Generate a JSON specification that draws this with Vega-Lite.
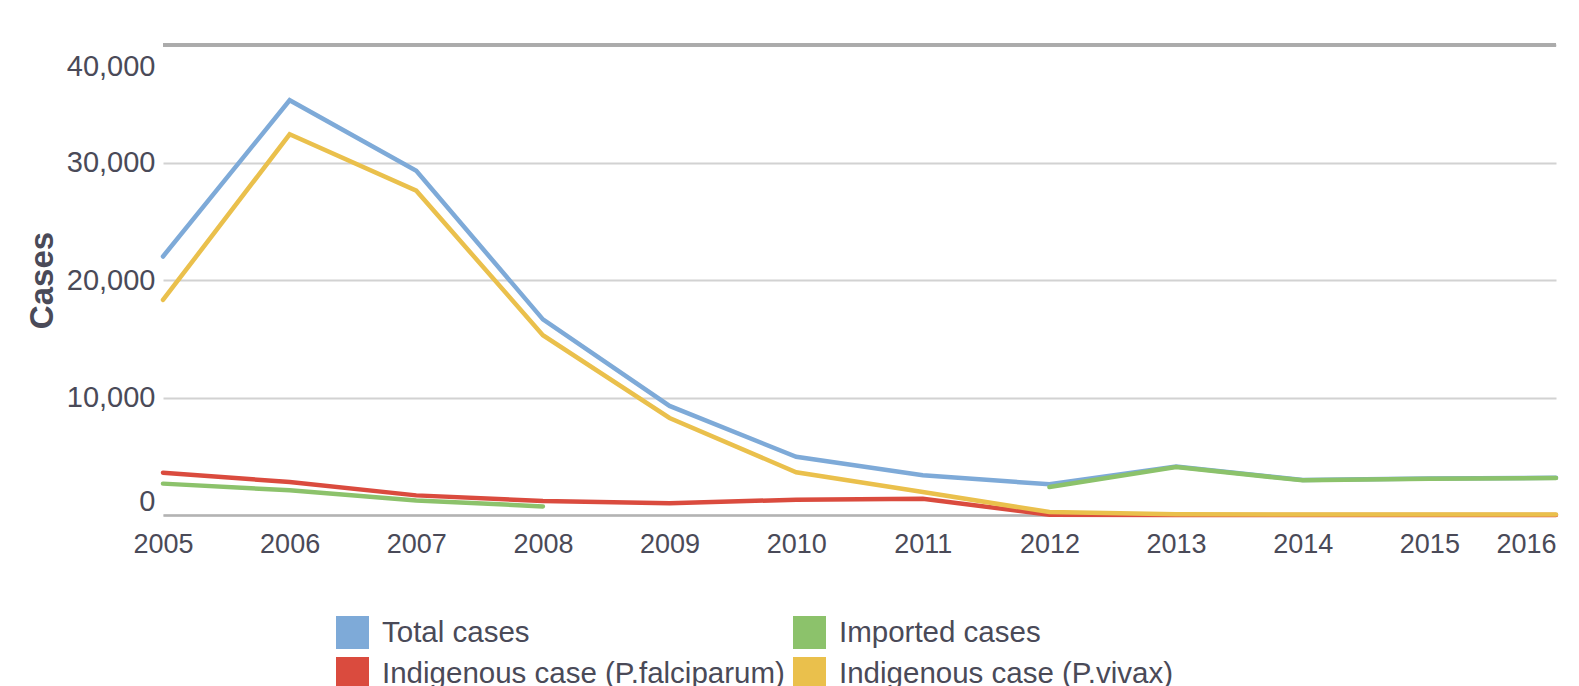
{
  "$schema": "https://vega.github.io/schema/vega-lite/v6.json",
  "width": 1393,
  "height": 470,
  "autosize": {"type": "none"},
  "padding": {"left": 163, "top": 45, "right": 23, "bottom": 171},
  "background": "white",
  "config": {"view": {"stroke": null}, "font": "Liberation Sans"},
  "data": {
    "values": [
      {"year": 2005, "series": "Total cases", "cases": 22000},
      {"year": 2006, "series": "Total cases", "cases": 35300},
      {"year": 2007, "series": "Total cases", "cases": 29300},
      {"year": 2008, "series": "Total cases", "cases": 16650},
      {"year": 2009, "series": "Total cases", "cases": 9280},
      {"year": 2010, "series": "Total cases", "cases": 4950},
      {"year": 2011, "series": "Total cases", "cases": 3380},
      {"year": 2012, "series": "Total cases", "cases": 2610},
      {"year": 2013, "series": "Total cases", "cases": 4120},
      {"year": 2014, "series": "Total cases", "cases": 2980},
      {"year": 2015, "series": "Total cases", "cases": 3110},
      {"year": 2016, "series": "Total cases", "cases": 3170},
      {"year": 2005, "series": "Indigenous case (P.falciparum)", "cases": 3600},
      {"year": 2006, "series": "Indigenous case (P.falciparum)", "cases": 2800},
      {"year": 2007, "series": "Indigenous case (P.falciparum)", "cases": 1670},
      {"year": 2008, "series": "Indigenous case (P.falciparum)", "cases": 1200},
      {"year": 2009, "series": "Indigenous case (P.falciparum)", "cases": 1010},
      {"year": 2010, "series": "Indigenous case (P.falciparum)", "cases": 1300},
      {"year": 2011, "series": "Indigenous case (P.falciparum)", "cases": 1390},
      {"year": 2012, "series": "Indigenous case (P.falciparum)", "cases": 20},
      {"year": 2013, "series": "Indigenous case (P.falciparum)", "cases": 0},
      {"year": 2014, "series": "Indigenous case (P.falciparum)", "cases": 0},
      {"year": 2015, "series": "Indigenous case (P.falciparum)", "cases": 0},
      {"year": 2016, "series": "Indigenous case (P.falciparum)", "cases": 0},
      {"year": 2005, "series": "Imported cases", "cases": 2670},
      {"year": 2006, "series": "Imported cases", "cases": 2100},
      {"year": 2007, "series": "Imported cases", "cases": 1240},
      {"year": 2008, "series": "Imported cases", "cases": 730},
      {"year": 2009, "series": "Imported cases", "cases": null},
      {"year": 2010, "series": "Imported cases", "cases": null},
      {"year": 2011, "series": "Imported cases", "cases": null},
      {"year": 2012, "series": "Imported cases", "cases": 2380},
      {"year": 2013, "series": "Imported cases", "cases": 4080},
      {"year": 2014, "series": "Imported cases", "cases": 2950},
      {"year": 2015, "series": "Imported cases", "cases": 3090},
      {"year": 2016, "series": "Imported cases", "cases": 3150},
      {"year": 2005, "series": "Indigenous case (P.vivax)", "cases": 18300},
      {"year": 2006, "series": "Indigenous case (P.vivax)", "cases": 32400},
      {"year": 2007, "series": "Indigenous case (P.vivax)", "cases": 27600},
      {"year": 2008, "series": "Indigenous case (P.vivax)", "cases": 15300},
      {"year": 2009, "series": "Indigenous case (P.vivax)", "cases": 8260},
      {"year": 2010, "series": "Indigenous case (P.vivax)", "cases": 3640},
      {"year": 2011, "series": "Indigenous case (P.vivax)", "cases": 1950},
      {"year": 2012, "series": "Indigenous case (P.vivax)", "cases": 250},
      {"year": 2013, "series": "Indigenous case (P.vivax)", "cases": 60},
      {"year": 2014, "series": "Indigenous case (P.vivax)", "cases": 50},
      {"year": 2015, "series": "Indigenous case (P.vivax)", "cases": 50},
      {"year": 2016, "series": "Indigenous case (P.vivax)", "cases": 50}
    ]
  },
  "layer": [
    {
      "mark": {"type": "line", "strokeWidth": 4.5, "strokeCap": "round", "invalid": "break-paths-show-domains"},
      "encoding": {
        "x": {
          "field": "year", "type": "quantitative",
          "scale": {"domain": [2005, 2016], "nice": false, "zero": false},
          "axis": {
            "title": null,
            "values": [2005, 2006, 2007, 2008, 2009, 2010, 2011, 2012, 2013, 2014, 2015, 2016],
            "format": "d", "ticks": false, "grid": false,
            "domain": true, "domainColor": "#b3b3b3", "domainWidth": 2.5,
            "labelFont": "Liberation Sans", "labelFontSize": 27, "labelColor": "#4a4a58",
            "labelPadding": 16, "labelFlush": false, "labelOverlap": false,
            "labelAlign": {"condition": {"test": "datum.value === 2016", "value": "right"}, "value": "center"}
          }
        },
        "y": {
          "field": "cases", "type": "quantitative",
          "scale": {"domain": [0, 40000], "nice": false},
          "axis": {
            "title": "Cases",
            "values": [0, 10000, 20000, 30000, 40000],
            "format": ",d", "ticks": false, "domain": false,
            "grid": true, "gridColor": "#d2d2d2", "gridWidth": 2,
            "labelFont": "Liberation Sans", "labelFontSize": 29, "labelColor": "#4a4a58",
            "labelPadding": 8,
            "labelOffset": {"condition": [{"test": "datum.value === 0", "value": -14}, {"test": "datum.value === 40000", "value": 21}], "value": 0},
            "titleFont": "Liberation Sans", "titleFontSize": 33, "titleFontWeight": "bold",
            "titleColor": "#4a4a58", "titleX": -121, "titleBaseline": "middle"
          }
        },
        "color": {
          "field": "series", "type": "nominal",
          "scale": {
            "domain": ["Total cases", "Indigenous case (P.falciparum)", "Imported cases", "Indigenous case (P.vivax)"],
            "range": ["#7eaad8", "#da4b3e", "#8cc26b", "#eac04c"]
          },
          "legend": {
            "orient": "none", "legendX": 173, "legendY": 571, "columns": 2, "title": null,
            "symbolType": "square", "symbolSize": 1089, "symbolStrokeWidth": 0,
            "labelFont": "Liberation Sans", "labelFontSize": 29.5, "labelColor": "#4a4a58",
            "labelOffset": 13, "columnPadding": 8, "rowPadding": 8, "labelLimit": 700,
            "encode": {"symbols": {"update": {"fill": {"scale": "color", "field": "value"}, "fillOpacity": {"value": 1}, "strokeWidth": {"value": 0}}}}
          }
        }
      }
    },
    {
      "mark": {"type": "rule", "color": "#ababab", "strokeWidth": 3},
      "encoding": {"y": {"datum": 40000, "type": "quantitative", "title": "Cases"}}
    }
  ]
}
